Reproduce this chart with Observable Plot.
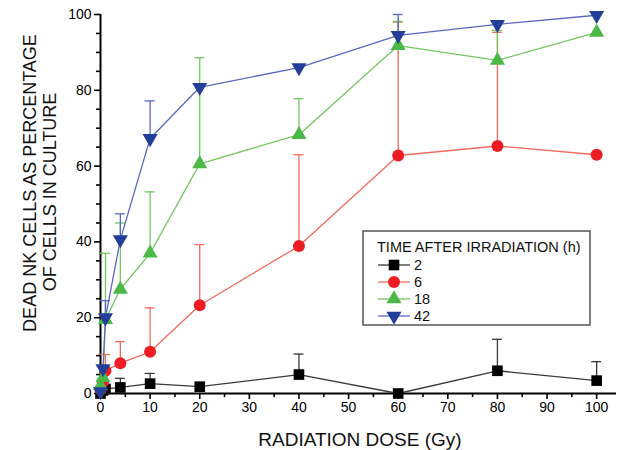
<!DOCTYPE html>
<html><head><meta charset="utf-8">
<script src="https://cdn.jsdelivr.net/npm/d3@7"></script>
<script src="https://cdn.jsdelivr.net/npm/@observablehq/plot@0.6"></script>
<style>body{margin:0;background:#fff;} svg{display:block;}</style>
</head><body><div id="chart"></div>
<script>
// Radiation dose (Gy)
const doses = [0, 0.5, 1, 4, 10, 20, 40, 60, 80, 100];
// Time after irradiation (h)
const seriesNames = ["2", "6", "18", "42"];
// Dead NK cells (% of cells in culture) and upper error-bar ends
const dead2h  = [0, 0.8, 1.2, 1.6, 2.6, 1.8, 5, 0, 6, 3.4];
const err2h   = [null, null, null, 4, 5.3, null, 10.4, null, 14.3, 8.4];
const dead6h  = [1, 3, 6, 8, 11, 23.3, 38.9, 62.8, 65.3, 63];
const err6h   = [null, null, 10.3, 13.7, 22.6, 39.3, 63, 98, 95.3, null];
const dead18h = [2, 4.2, 19.5, 27.5, 37, 60.6, 68.3, 91.8, 87.9, 95.3];
const err18h  = [null, null, 37, 45, 53.2, 88.6, 77.8, 98.2, 95.8, null];
const dead42h = [0.5, 6.6, 20, 40.6, 67.3, 80.8, 86, 94.5, 97.4, 99.8];
const err42h  = [null, null, 24.5, 47.4, 77.2, null, null, 100, null, null];
const xTicks = [0, 10, 20, 30, 40, 50, 60, 70, 80, 90, 100];
const yTicks = [0, 20, 40, 60, 80, 100];

const downTriangle = {
  draw(ctx, size) {
    const s3 = Math.sqrt(3);
    const y = Math.sqrt(size / (s3 * 3));
    ctx.moveTo(0, 2 * y);
    ctx.lineTo(-s3 * y, -y);
    ctx.lineTo(s3 * y, -y);
    ctx.closePath();
  }
};

const series = [
  {name: seriesNames[0], values: dead2h, upper: err2h, fill: "#000000", line: "#3a3a3a", symbol: "square", r: 6},
  {name: seriesNames[1], values: dead6h, upper: err6h, fill: "#ee1d23", line: "#f26b5b", symbol: "circle", r: 6},
  {name: seriesNames[2], values: dead18h, upper: err18h, fill: "#4cb848", line: "#72c75e", symbol: "triangle", r: 5.6},
  {name: seriesNames[3], values: dead42h, upper: err42h, fill: "#233e99", line: "#5a67c4", symbol: downTriangle, r: 5.6}
];

const marks = [
  Plot.axisX({ticks: xTicks, tickSize: 6, tickPadding: 3, label: null, strokeWidth: 1.6}),
  Plot.axisX({ticks: d3.range(5, 101, 10), tickSize: 4, text: null, label: null, strokeWidth: 1.6}),
  Plot.axisY({ticks: yTicks, tickSize: 6, tickPadding: 3, label: null, strokeWidth: 1.6}),
  Plot.axisY({ticks: d3.range(5, 100, 5).filter(v => v % 20 !== 0), tickSize: 4, text: null, label: null, strokeWidth: 1.6}),
  Plot.ruleX([0], {stroke: "#000", strokeWidth: 2}),
  Plot.ruleY([0], {stroke: "#000", strokeWidth: 2})
];
const tables = series.map(s => doses.map((d, i) => ({dose: d, value: s.values[i], upper: s.upper[i]})));
series.forEach((s, k) => {
  const data = tables[k];
  const errs = data.filter(d => d.upper != null);
  marks.push(Plot.line(data, {x: "dose", y: "value", stroke: s.line, strokeWidth: 1.3}));
  marks.push(Plot.ruleX(errs, {x: "dose", y1: "value", y2: "upper", stroke: s.line, strokeWidth: 1.3}));
  marks.push(Plot.ruleY(errs, {y: "upper", x1: d => d.dose - 1, x2: d => d.dose + 1, stroke: s.line, strokeWidth: 1.3}));
});
series.forEach((s, k) => {
  marks.push(Plot.dot(tables[k], {x: "dose", y: "value", symbol: s.symbol, r: s.r, fill: s.fill, stroke: "none"}));
});

const chart = Plot.plot({
  width: 621, height: 450,
  marginLeft: 100, marginRight: 5, marginTop: 14, marginBottom: 57,
  x: {domain: [0, 104]},
  y: {domain: [0, 100]},
  style: {fontFamily: '"Liberation Sans", Arial, sans-serif', fontSize: "14px", color: "#000", background: "#fff", overflow: "visible"},
  marks
});
document.getElementById("chart").appendChild(chart);

const svg = d3.select(chart);
const font = '"Liberation Sans", Arial, sans-serif';
// axis titles
svg.append("text").attr("x", 360).attr("y", 446).attr("text-anchor", "middle")
  .attr("font-family", font).attr("font-size", 19).attr("fill", "#111").text("RADIATION DOSE (Gy)");
svg.append("text").attr("transform", "translate(36,183) rotate(-90)").attr("text-anchor", "middle")
  .attr("font-family", font).attr("font-size", 18).attr("fill", "#111").text("DEAD NK CELLS AS PERCENTAGE");
svg.append("text").attr("transform", "translate(56,192) rotate(-90)").attr("text-anchor", "middle")
  .attr("font-family", font).attr("font-size", 18).attr("fill", "#111").text("OF CELLS IN CULTURE");

// legend
const lg = svg.append("g").attr("text-anchor", "start");
lg.append("rect").attr("x", 363).attr("y", 231).attr("width", 227).attr("height", 94)
  .attr("fill", "#fff").attr("stroke", "#555").attr("stroke-width", 1.5);
lg.append("text").attr("x", 377).attr("y", 252).attr("text-anchor", "start").attr("font-family", font).attr("font-size", 14.5)
  .attr("fill", "#111").text("TIME AFTER IRRADIATION (h)");
const rowY = [265, 282, 299, 316];
const symFns = [d3.symbolSquare, d3.symbolCircle, d3.symbolTriangle, downTriangle];
series.forEach((s, i) => {
  const y = rowY[i];
  lg.append("line").attr("x1", 378).attr("x2", 410).attr("y1", y).attr("y2", y)
    .attr("stroke", s.line).attr("stroke-width", 1.3);
  lg.append("path").attr("transform", `translate(394,${y})`)
    .attr("d", d3.symbol(symFns[i], Math.PI * s.r * s.r)()).attr("fill", s.fill);
  lg.append("text").attr("x", 414).attr("y", y + 5).attr("text-anchor", "start").attr("font-family", font).attr("font-size", 14.5)
    .attr("fill", "#111").text(s.name);
});
</script>
</body></html>
